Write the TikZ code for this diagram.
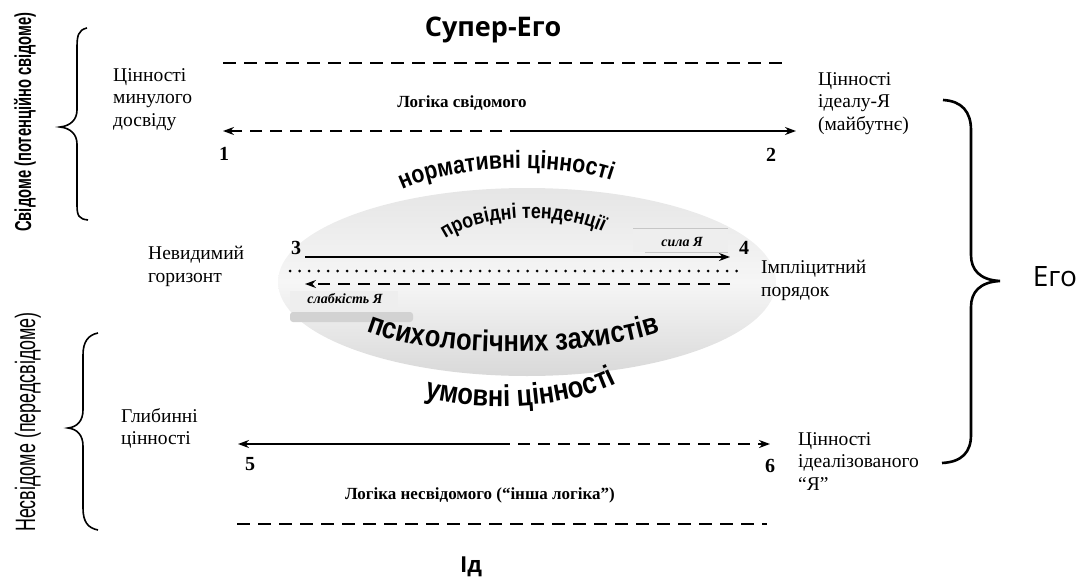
\documentclass[tikz,border=0pt]{standalone}
\usepackage{fontspec}
\setmainfont{Liberation Serif}
\newfontfamily\sansf{Liberation Sans}
\newfontfamily\narrowf[FakeStretch=0.85]{Liberation Sans}
\newfontfamily\condf[FakeStretch=0.64]{Liberation Sans}
\newfontfamily\roundf{Open Sans}
\usetikzlibrary{arrows.meta,decorations.text,shapes.geometric}
\begin{document}
\begin{tikzpicture}[x=1pt,y=1pt,
  lbl/.style={align=left, font=\fontsize{19.5}{22.5}\selectfont, inner sep=0pt, anchor=north west},
  num/.style={font=\bfseries\fontsize{20}{20}\selectfont, inner sep=0pt},
  bigdash/.style={line width=2.6pt, dash pattern=on 13pt off 8pt},
  arr/.style={line width=2pt},
  arrdash/.style={line width=2.4pt, dash pattern=on 12pt off 8pt},
  tipped/.style={-{Stealth[length=11pt,width=8pt]}},
  bracel/.style={line width=1.6pt},
  bracer/.style={line width=2.6pt},
  arctext/.style={decorate, decoration={text along path, text align=center, text={#1}}},
  graybar/.style={fill=gray!13, draw=none},
  barlbl/.style={font=\bfseries\itshape\fontsize{14}{14}\selectfont, inner sep=0pt}
]
\useasboundingbox (0,0) rectangle (1085,-578);

% central ellipse
\node[ellipse, draw=none, minimum width=498pt, minimum height=188pt,
      top color=gray!20, bottom color=gray!30, middle color=gray!7] (egg) at (527,-282) {};

% titles
\node[font=\roundf\bfseries\fontsize{27}{27}\selectfont] (super) at (493,-30) {Супер-Его};
\node[font=\roundf\bfseries\fontsize{22}{22}\selectfont] (id) at (471,-567) {Ід};
\node[font=\roundf\fontsize{28}{28}\selectfont] (ego) at (1055,-277) {Его};

% dashed boundary lines
\coordinate (t1) at (223,-63); \coordinate (t2) at (782,-63);
\draw[bigdash] (t1) -- (t2);
\coordinate (b1) at (237,-524); \coordinate (b2) at (767,-524);
\draw[bigdash] (b1) -- (b2);

% logic of conscious
\node[font=\bfseries\fontsize{17}{17}\selectfont] (logs) at (462,-103) {Логіка свідомого};
\coordinate (p1) at (223,-131); \coordinate (p2) at (796,-131); \coordinate (m12) at (522,-131);
\draw[arrdash, tipped] (m12) -- (p1);
\draw[arr, tipped] (m12) -- (p2);
\node[num] (n1) at (224,-154) {1};
\node[num] (n2) at (771,-155) {2};

% logic of unconscious
\coordinate (p5) at (238,-444); \coordinate (p6) at (770,-444); \coordinate (m56) at (498,-444);
\draw[arr, tipped] (m56) -- (p5);
\draw[arrdash, tipped] (m56) -- (p6);
\node[num] (n5) at (250,-464) {5};
\node[num] (n6) at (770,-466) {6};
\node[font=\bfseries\fontsize{17}{17}\selectfont] (logn) at (480,-495) {Логіка несвідомого (“інша логіка”)};

% gray bars
\fill[graybar] (633,-229) rectangle (728,-252);
\draw[gray!45, line width=1pt] (633,-228) -- (728,-228);
\draw[gray!45, line width=1pt] (645,-252) -- (728,-252);
\node[barlbl] (sila) at (682,-242) {сила Я};
\fill[graybar] (290,-291) rectangle (398,-307);
\fill[gray!35, rounded corners=3pt] (290,-312) rectangle (413,-322);
\node[barlbl] (slab) at (345,-299) {слабкість Я};

% middle arrows
\coordinate (p3) at (305,-257); \coordinate (p4) at (730,-257);
\draw[arr, tipped] (p3) -- (p4);
\node[num] (n3) at (296,-248) {3};
\node[num] (n4) at (744,-248) {4};
\coordinate (d1) at (290,-271); \coordinate (d2) at (745,-271);
\draw[line width=3pt, line cap=round, dash pattern=on 0pt off 9.5pt] (d1) -- (d2);
\coordinate (q1) at (730,-284); \coordinate (q2) at (305,-284);
\draw[arrdash, tipped] (q1) -- (q2);

% curved texts
\path[arctext={|\narrowf\bfseries\fontsize{25}{25}\selectfont|нормативні цінності}]
  (394,-194) .. controls (445,-164) and (565,-160) .. (620,-184);
\path[arctext={|\narrowf\bfseries\fontsize{21}{21}\selectfont|провідні тенденції}]
  (430,-253) .. controls (462,-210) and (578,-207) .. (620,-243);
\path[arctext={|\narrowf\bfseries\fontsize{30}{30}\selectfont|психологічних захистів}]
  (355,-326) .. controls (420,-360) and (592,-360) .. (672,-328);
\path[arctext={|\narrowf\bfseries\fontsize{30}{30}\selectfont|умовні цінності}]
  (406,-390) .. controls (458,-415) and (578,-413) .. (634,-373);

% side labels
\node[lbl] (tl) at (113,-68) {Цінності\\минулого\\досвіду};
\node[lbl] (tr) at (818,-72) {Цінності\\ ідеалу-Я\\ (майбутнє)};
\node[lbl] (br) at (798,-432) {Цінності\\ідеалізованого\\“Я”};
\node[lbl] (bl) at (121,-408) {Глибинні\\цінності};
\node[lbl] (ml) at (148,-246) {Невидимий\\горизонт};
\node[lbl] (mr) at (761,-260) {Імпліцитний\\порядок};

% vertical labels
\node[rotate=90, inner sep=0pt, font=\condf\bfseries\fontsize{23}{23}\selectfont] (sv) at (25,-122)
  {Свідоме (потенційно свідоме)};
\node[rotate=90, inner sep=0pt, font=\condf\fontsize{28}{28}\selectfont] (nsv) at (28,-422)
  {Несвідоме (передсвідоме)};

% braces
\draw[bracel] (87,-28) .. controls (78,-30) and (77,-36) .. (77,-48) -- (77,-110)
  .. controls (77,-120) and (70,-126) .. (60,-127)
  .. controls (70,-128) and (77,-134) .. (77,-144) -- (77,-205)
  .. controls (77,-216) and (79,-219) .. (88,-220);
\draw[bracel] (98,-333) .. controls (88,-335) and (83,-342) .. (83,-355) -- (83,-410)
  .. controls (83,-421) and (77,-427) .. (68,-428)
  .. controls (77,-429) and (83,-435) .. (83,-446) -- (83,-508)
  .. controls (83,-522) and (88,-528) .. (98,-530);
\draw[bracer] (943,-100) .. controls (962,-101) and (971,-112) .. (971,-130) -- (971,-255)
  .. controls (971,-270) and (980,-280) .. (1000,-281)
  .. controls (980,-282) and (971,-292) .. (971,-307) -- (971,-435)
  .. controls (971,-452) and (962,-462) .. (942,-463);
\end{tikzpicture}
\end{document}
